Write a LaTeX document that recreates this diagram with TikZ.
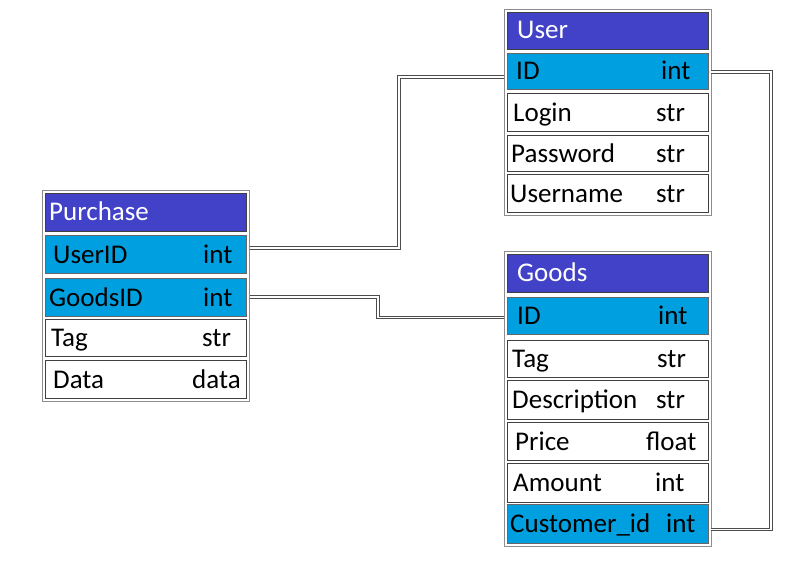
\documentclass[tikz,border=0pt]{standalone}
\usepackage{fontspec}
\setmainfont{Carlito}
\usetikzlibrary{fit}
\definecolor{hdrblue}{RGB}{66,66,200}
\definecolor{keycyan}{RGB}{0,160,224}
\begin{document}
\begin{tikzpicture}[x=1pt,y=-1pt,
  cell/.style={draw=black!75,line width=0.7pt,minimum width=201pt,inner sep=0pt,outer sep=0pt},
  hdr/.style={cell,fill=hdrblue},
  keyrow/.style={cell,fill=keycyan,draw=black!60},
  plainrow/.style={cell,fill=white},
  txt/.style={font=\fontsize{27}{29}\selectfont,anchor=base west,inner sep=0pt,text=black},
  htxt/.style={txt,text=white},
  frame/.style={draw=black!45,line width=0.6pt,inner sep=3pt},
  linkout/.style={draw=black!70,line width=3.4pt},
  linkin/.style={draw=white,line width=1.6pt}]
\useasboundingbox (0,0) rectangle (797,568);
% ---------- User ----------
\node[hdr,minimum height=37pt] (uh) at (607.5,30.5) {};
\node[keyrow,minimum height=36pt] (ui) at (607.5,71) {};
\node[plainrow,minimum height=38pt] (ul) at (607.5,112) {};
\node[plainrow,minimum height=36pt] (up) at (607.5,153) {};
\node[plainrow,minimum height=38pt] (uu) at (607.5,193) {};
\node[frame,fit=(uh)(uu)] (uframe) {};
\node[htxt] (uh-n) at (517,38) {User};
\node[txt] (ui-n) at (516,79.5) {ID};
\node[txt] (ui-t) at (661,79.5) {int};
\node[txt] (ul-n) at (513,121.5) {Login};
\node[txt] (ul-t) at (656,121.5) {str};
\node[txt] (up-n) at (511,162) {Password};
\node[txt] (up-t) at (656,162) {str};
\node[txt] (uu-n) at (510,202) {Username};
\node[txt] (uu-t) at (656,202) {str};
% ---------- Purchase ----------
\node[hdr,minimum height=38pt] (ph) at (146,212) {};
\node[keyrow,minimum height=38pt] (pu) at (146,254) {};
\node[keyrow,minimum height=38pt] (pg) at (146,297) {};
\node[plainrow,minimum height=37pt] (pt) at (146,337.5) {};
\node[plainrow,minimum height=38pt] (pd) at (146,379) {};
\node[frame,fit=(ph)(pd)] (pframe) {};
\node[htxt] (ph-n) at (49,220) {Purchase};
\node[txt] (pu-n) at (53,263) {UserID};
\node[txt] (pu-t) at (203,263) {int};
\node[txt] (pg-n) at (49,306) {GoodsID};
\node[txt] (pg-t) at (203,306) {int};
\node[txt] (pt-n) at (51,346) {Tag};
\node[txt] (pt-t) at (202,346) {str};
\node[txt] (pd-n) at (53,388) {Data};
\node[txt] (pd-t) at (192,388) {data};
% ---------- Goods ----------
\node[hdr,minimum height=38pt] (gh) at (607.5,273) {};
\node[keyrow,minimum height=37pt] (gi) at (607.5,315.5) {};
\node[plainrow,minimum height=37pt] (gt) at (607.5,358.5) {};
\node[plainrow,minimum height=39pt] (gd) at (607.5,399.5) {};
\node[plainrow,minimum height=38pt] (gp) at (607.5,441) {};
\node[plainrow,minimum height=39pt] (ga) at (607.5,482.5) {};
\node[keyrow,minimum height=39pt] (gc) at (607.5,523.5) {};
\node[frame,fit=(gh)(gc)] (gframe) {};
\node[htxt] (gh-n) at (517,281) {Goods};
\node[txt] (gi-n) at (517,324) {ID};
\node[txt] (gi-t) at (658,324) {int};
\node[txt] (gt-n) at (512,367) {Tag};
\node[txt] (gt-t) at (657,367) {str};
\node[txt] (gd-n) at (512,408) {Description};
\node[txt] (gd-t) at (656,408) {str};
\node[txt] (gp-n) at (515,450) {Price};
\node[txt] (gp-t) at (646,450) {float};
\node[txt] (ga-n) at (513,491) {Amount};
\node[txt] (ga-t) at (655,491) {int};
\node[txt] (gc-n) at (510,532) {Customer\_id};
\node[txt] (gc-t) at (666,532) {int};
% ---------- connectors ----------
\coordinate (ja) at (399,0);
\coordinate (jb) at (378,0);
\coordinate (jc) at (771,0);
\coordinate (a1) at ([yshift=6pt]pu.east -| pframe.east);
\coordinate (a2) at ([yshift=-6pt]ui.west -| uframe.west);
\coordinate (b1) at (pg.east -| pframe.east);
\coordinate (b2) at ([yshift=-2pt]gi.west -| gframe.west);
\coordinate (c1) at ([yshift=-1pt]ui.east -| uframe.east);
\coordinate (c2) at ([yshift=-6pt]gc.east -| gframe.east);
\foreach \s in {linkout,linkin}{
  \draw[\s] (a1) -- (a1 -| ja) -- (a2 -| ja) -- (a2);
  \draw[\s] (b1) -- (b1 -| jb) -- (b2 -| jb) -- (b2);
  \draw[\s] (c1) -- (c1 -| jc) -- (c2 -| jc) -- (c2);
}
\end{tikzpicture}
\end{document}
